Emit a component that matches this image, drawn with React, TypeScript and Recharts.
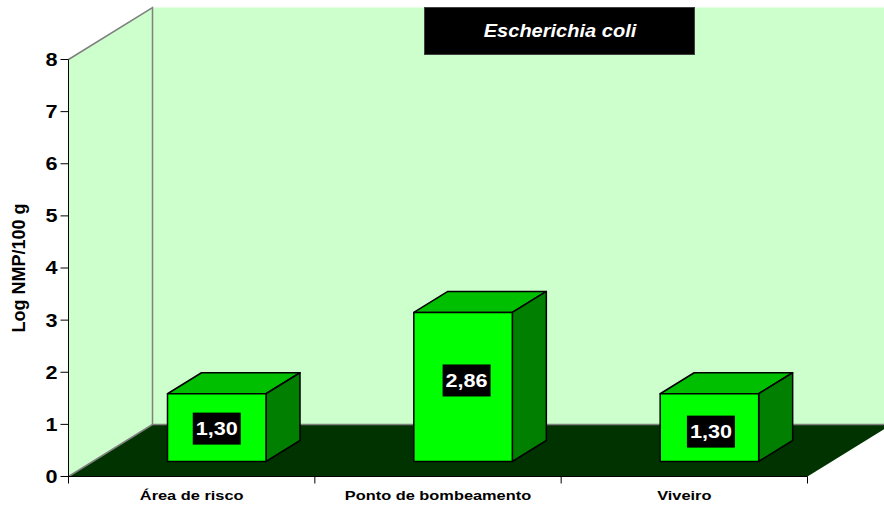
import React from 'react'
import {
    BarChart,
    Bar,
    XAxis,
    YAxis,
    Customized
} from "recharts";

const categories = ["Área de risco", "Ponto de bombeamento", "Viveiro"];
const logNmp = [1.30, 2.86, 1.30];
const yTicks = [0, 1, 2, 3, 4, 5, 6, 7, 8];
const titleText = "Escherichia coli";
const yTitle = "Log NMP/100 g";

const data = categories.map((name, i) => ({ name, value: logNmp[i] }));

const FONT = "'Liberation Sans', Arial, sans-serif";
const WIDTH = 884;
const HEIGHT = 506;
const PLOT = { left: 68.5, top: 59.5, right: 807.5, bottom: 476.5 };
const BAND = (PLOT.right - PLOT.left) / categories.length;
// depth of the floor and of the boxes
const FLOOR_DX = 84;
const FLOOR_DY = 52;
const BOX_DX = 34;
const BOX_DY = 21;
const BOX_SHIFT_X = 25;
const BOX_SHIFT_Y = 15;
// the value tags do not sit exactly centred on each box
const tagNudge = [[0, 1], [3.5, -6.5], [1.5, 4]];

// text in this chart is slightly wider than the plain font
const Wide = ({ x, y, sx, anchor = "middle", children, ...rest }: any) => (
    <text
        transform={`translate(${x},${y}) scale(${sx},1)`}
        dy="0.36em"
        textAnchor={anchor}
        fontFamily={FONT}
        fontWeight={700}
        {...rest}
    >
        {children}
    </text>
);

const Walls = () => {
    const { left, top, right, bottom } = PLOT;
    const backX = left + FLOOR_DX;
    const backY = bottom - FLOOR_DY;
    const topY = top - FLOOR_DY;
    const farRight = right + FLOOR_DX;
    return (
        <g>
            <polygon points={`${left},${top} ${backX},${topY} ${backX},${backY} ${left},${bottom}`} fill="#CCFFCC" />
            <rect x={backX} y={topY} width={farRight - backX} height={bottom - top} fill="#CCFFCC" />
            <polygon
                points={`${left},${bottom} ${backX},${backY} ${farRight},${backY} ${right},${bottom}`}
                fill="#003300"
            />
            <polyline points={`${left},${top} ${backX},${topY} ${backX},${backY} ${left},${bottom}`} fill="none" stroke="#808080" strokeWidth={1.5} />
            <line x1={backX} y1={backY} x2={farRight} y2={backY} stroke="#808080" strokeWidth={1.5} />
        </g>
    );
};

const Box = ({ x, y, width, height, index }: any) => {
    const left = x + BOX_SHIFT_X;
    const top = y - BOX_SHIFT_Y;
    const right = left + width;
    const bottom = top + height;
    const edge = { stroke: "#000", strokeWidth: 1.5, strokeLinejoin: "round" as const };
    const [nx, ny] = tagNudge[index];
    const cx = left + width / 2 + nx;
    const cy = top + height / 2 + ny;
    return (
        <g>
            <polygon points={`${left},${top} ${left + BOX_DX},${top - BOX_DY} ${right + BOX_DX},${top - BOX_DY} ${right},${top}`} fill="#00BF00" {...edge} />
            <polygon points={`${right},${top} ${right + BOX_DX},${top - BOX_DY} ${right + BOX_DX},${bottom - BOX_DY} ${right},${bottom}`} fill="#007F00" {...edge} />
            <rect x={left} y={top} width={width} height={height} fill="#00FF00" {...edge} />
            <rect x={cx - 24} y={cy - 16} width={48} height={32} fill="#000" />
            <Wide x={cx} y={cy} sx={1.2} fill="#fff" fontSize={18}>
                {logNmp[index].toFixed(2).replace(".", ",")}
            </Wide>
        </g>
    );
};

const CategoryTick = ({ x, index, payload }: any) => {
    const tickTop = PLOT.bottom;
    return (
        <g>
            <line x1={x - BAND / 2} y1={tickTop} x2={x - BAND / 2} y2={tickTop + 7} stroke="#000" />
            {index === categories.length - 1 && (
                <line x1={x + BAND / 2} y1={tickTop} x2={x + BAND / 2} y2={tickTop + 7} stroke="#000" />
            )}
            <Wide x={x} y={495} sx={1.26} fill="#000" fontSize={13}>
                {payload.value}
            </Wide>
        </g>
    );
};

const ValueTick = ({ x, y, payload }: any) => (
    <Wide x={x} y={y} sx={1.2} anchor="end" fill="#000" fontSize={18}>
        {payload.value}
    </Wide>
);

const Title = () => (
    <g>
        <rect x={424.5} y={7.5} width={270} height={47} fill="#000" stroke="#404040" />
        <Wide x={560} y={30} sx={1.055} fill="#fff" fontStyle="italic" fontSize={19}>
            {titleText}
        </Wide>
    </g>
);

const App = () => {
    return (
        <div style={{ position: "absolute", left: 0, top: 0, width: WIDTH, height: HEIGHT, overflow: "hidden" }}>
            <BarChart
                width={WIDTH}
                height={HEIGHT}
                data={data}
                barSize={98.5}
                margin={{ top: PLOT.top, right: WIDTH - PLOT.right, left: PLOT.left - 60, bottom: 0 }}
                style={{ background: "#fff" }}
            >
                <Customized component={Walls} />
                <XAxis
                    dataKey="name"
                    height={HEIGHT - PLOT.bottom}
                    interval={0}
                    stroke="#000"
                    tickLine={false}
                    tick={<CategoryTick />}
                />
                <YAxis
                    width={60}
                    domain={[0, 8]}
                    ticks={yTicks}
                    stroke="#000"
                    tickSize={8}
                    tickMargin={3}
                    tick={<ValueTick />}
                    label={{
                        value: yTitle,
                        angle: -90,
                        position: "insideLeft",
                        offset: 10,
                        style: { fontSize: 18, fontWeight: 700, fill: "#000", fontFamily: FONT, textAnchor: "middle" }
                    }}
                />
                <Bar dataKey="value" shape={<Box />} isAnimationActive={false} />
                <Customized component={Title} />
            </BarChart>
        </div>
    );
};

export default App;
